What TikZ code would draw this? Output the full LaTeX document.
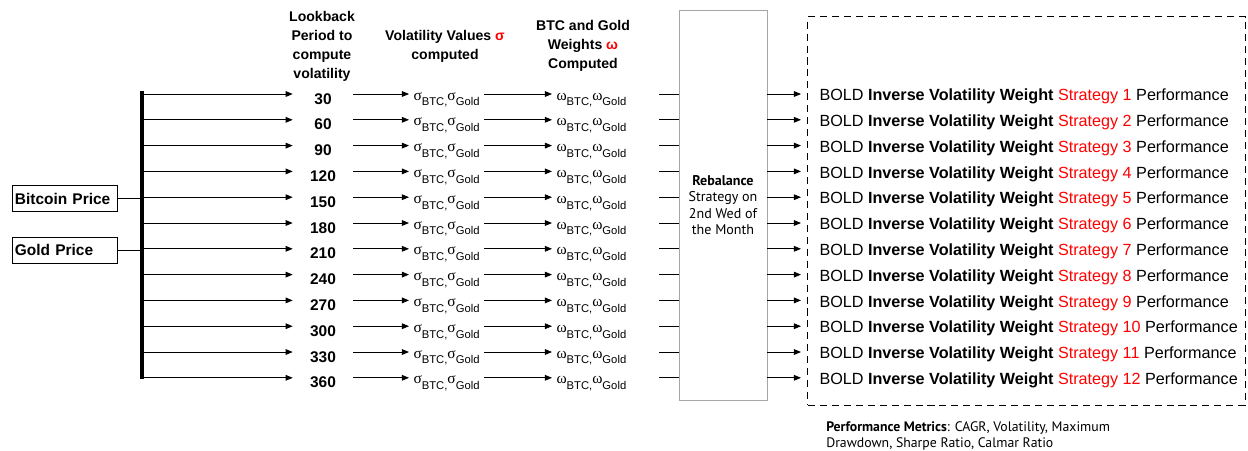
\documentclass[tikz,border=0pt]{standalone}
\usepackage{fontspec}
\setmainfont{Liberation Sans}
\newfontfamily\gillfont{PT Sans}
\newfontfamily\grkfont{Liberation Serif}
\usetikzlibrary{arrows.meta, positioning, calc}

\newcommand{\lowsub}[1]{\raisebox{-4.2pt}{\fontsize{8}{8}\selectfont #1}}
\newcommand{\volpair}[1]{{\grkfont\fontsize{11}{11}\selectfont #1}\lowsub{BTC,}{\grkfont\fontsize{11}{11}\selectfont #1}\lowsub{Gold}}

\begin{document}
\begin{tikzpicture}[x=0.025cm, y=-0.025cm,
        every node/.style={font=\fontsize{11}{13}\selectfont},
        pricebox/.style={draw, line width=0.6pt, text width=2.48cm, inner xsep=2pt, minimum height=0.65cm, align=left, font=\fontsize{11}{13}\selectfont\bfseries},
        head/.style={align=center, inner sep=0pt, anchor=north, font=\fontsize{10}{13.5}\selectfont\bfseries},
        period/.style={minimum width=1.5cm, inner sep=0pt, anchor=base, font=\fontsize{11}{13}\selectfont\bfseries},
        val/.style={inner xsep=3pt, inner ysep=0pt, anchor=base west},
        strat/.style={anchor=west, inner xsep=13pt, inner ysep=0pt, text height=8.2pt, text depth=0pt, font=\fontsize{11.5}{13}\selectfont},
        flecha/.style={-{Triangle[length=5pt, width=4pt]}, line width=0.6pt},
        linea/.style={line width=0.6pt}]
    \useasboundingbox (0,0) rectangle (1248,450);
    \node[head] (h1) at (322,11) {Lookback\\Period to\\compute\\volatility};
    \node[head] (h2) at (445,30.5) {Volatility Values \textcolor{red}{σ}\\computed};
    \node[head] (h3) at (583,20.5) {BTC and Gold\\Weights \textcolor{red}{ω}\\Computed};
    \node[draw=black!35, line width=0.6pt, minimum width=2.2cm, minimum height=9.75cm, align=center, font=\gillfont\fontsize{10}{11.6}\selectfont] (rebal) at (723,205) {\textbf{Rebalance}\\Strategy on\\2nd Wed of\\the Month};
    \node[draw, dashed, dash pattern=on 5pt off 3.5pt, line width=0.7pt, minimum width=10.925cm, minimum height=9.7cm] (outbox) at (1026.5,211) {};
    \node[pricebox] (btc) at (64.5,198.5) {Bitcoin Price};
    \node[pricebox] (gold) at (64.5,250) {Gold Price};
    \foreach \p [count=\i] in {30,60,...,360} {
        \pgfmathsetmacro{\ya}{94+(\i-1)*25.8}
        \coordinate (bar-\i) at (142,\ya);
        \node[period] (num-\i) at (323,\ya+10) {\p};
        \node[val] (sig-\i) at (409,\ya+6) {\volpair{σ}};
        \node[val] (om-\i) at (552,\ya+6) {\volpair{ω}};
        \node[strat] (str-\i) at (801,\ya+1) {BOLD \textbf{Inverse Volatility Weight} \textcolor{red}{Strategy \i} Performance};
        \draw[flecha] (bar-\i) -- (num-\i.west |- bar-\i);
        \draw[flecha] (num-\i.east |- bar-\i) -- (sig-\i.west |- bar-\i);
        \draw[flecha] (sig-\i.east |- bar-\i) -- (om-\i.west |- bar-\i);
        \draw[linea, shorten <=20pt] (om-\i.east |- bar-\i) -- (rebal.west |- bar-\i);
        \draw[flecha] (rebal.east |- bar-\i) -- (str-\i.west |- bar-\i);
    }
    \draw[line width=2.4pt] ([yshift=2pt]bar-1) -- ([yshift=-1pt]bar-12);
    \draw[linea] (btc.east) -- (btc.east -| bar-1);
    \draw[linea] (gold.east) -- (gold.east -| bar-1);
    \node[anchor=north west, inner sep=0pt, align=left, font=\gillfont\fontsize{9.8}{11.6}\selectfont] (metrics) at (826,421) {\textbf{Performance Metrics}: CAGR, Volatility, Maximum\\Drawdown, Sharpe Ratio, Calmar Ratio};
\end{tikzpicture}
\end{document}
